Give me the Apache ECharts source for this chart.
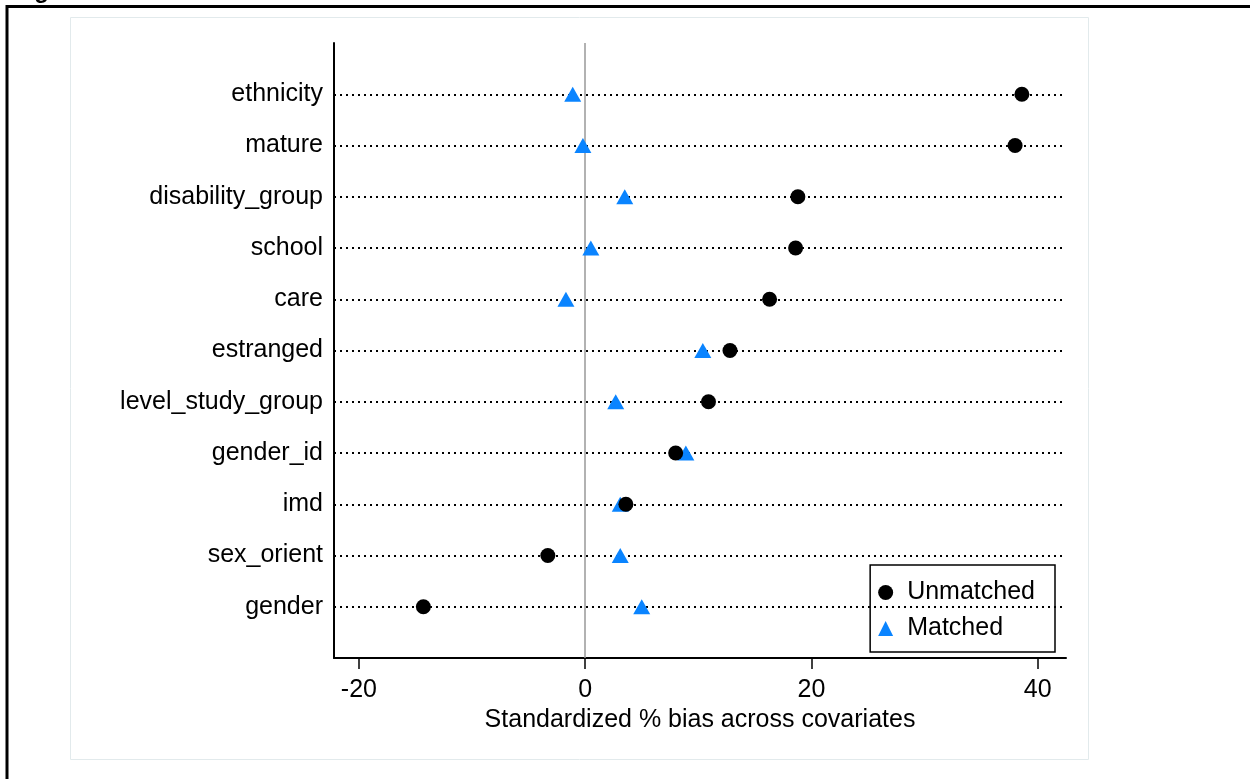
<!DOCTYPE html>
<html>
<head>
<meta charset="utf-8">
<script src="https://cdn.jsdelivr.net/npm/echarts@6/dist/echarts.min.js"></script>
<style>
html,body{margin:0;padding:0;background:#fff;}
#chart{width:1250px;height:779px;}
</style>
</head>
<body>
<div id="chart"></div>
<script>
// Covariates, top to bottom
var categories = ['ethnicity','mature','disability_group','school','care','estranged','level_study_group','gender_id','imd','sex_orient','gender'];
var unmatched = [38.6, 38.0, 18.8, 18.6, 16.3, 12.8, 10.9, 8.0, 3.6, -3.3, -14.3];
var matched   = [-1.1, -0.2, 3.5, 0.5, -1.7, 10.4, 2.7, 8.9, 3.1, 3.1, 5.0];
var xTicks = [-20, 0, 20, 40];
var xTitle = 'Standardized % bias across covariates';
var seriesNames = ['Unmatched', 'Matched'];
var headingText = 'Figure';

var n = categories.length;
function pos(i){ return n - i; }
function pts(arr){ return arr.map(function(v,i){ return [v, pos(i)]; }); }

var font = 'Liberation Sans, Arial, sans-serif';
var chart = echarts.init(document.getElementById('chart'));
chart.setOption({
  backgroundColor: '#fff',
  animation: false,
  graphic: [
    {type:'rect', shape:{x:70.5,y:17.5,width:1018,height:742}, style:{fill:'none', stroke:'#e2eaec', lineWidth:1}, z:-1},
    {type:'line', shape:{x1:6,y1:6.5,x2:1250,y2:6.5}, style:{stroke:'#000', lineWidth:3}},
    {type:'line', shape:{x1:7,y1:5,x2:7,y2:779}, style:{stroke:'#000', lineWidth:3}},
    {type:'text', left:13, top:-21, style:{text:headingText, font:'bold 24px Liberation Sans, Arial, sans-serif', fill:'#000'}}
  ],
  grid: {left:334, right:184, top:43, bottom:121, containLabel:false},
  legend: {
    data: seriesNames,
    orient: 'vertical',
    right: 195, bottom: 127,
    borderColor: '#000', borderWidth: 1.5, borderRadius: 0,
    padding: [15, 20, 11, 8],
    itemGap: 11, itemWidth: 15, itemHeight: 15,
    textStyle: {fontSize: 25, color:'#000', fontFamily: font, padding:[0,0,0,9]}
  },
  xAxis: {
    type: 'value', min: -22.2, max: 42.5,
    name: xTitle, nameLocation: 'middle', nameGap: 50,
    nameTextStyle: {fontSize: 25, color:'#000', fontFamily: font},
    axisLine: {show:true, onZero:false, lineStyle:{color:'#000', width:2}},
    axisTick: {show:true, length:11, customValues: xTicks, lineStyle:{color:'#000', width:1.5}},
    axisLabel: {customValues: xTicks, fontSize: 25, color:'#000', fontFamily: font, margin: 20},
    splitLine: {show:false}
  },
  yAxis: {
    type: 'value', min: 0, max: n + 1, interval: 1,
    axisLine: {show:true, onZero:false, lineStyle:{color:'#000', width:2}},
    axisTick: {show:false},
    axisLabel: {
      fontSize: 25, color:'#000', fontFamily: font, margin: 11, padding: [9,0,0,0],
      formatter: function(v){ return (v >= 1 && v <= n) ? categories[n - v] : ''; }
    },
    splitLine: {show:false}
  },
  series: [
    {
      name: 'Matched', type: 'scatter', symbol: 'triangle', symbolSize: [17, 15],
      itemStyle: {color: '#0a84ff', opacity: 1},
      data: pts(matched), z: 3
    },
    {
      name: 'Unmatched', type: 'scatter', symbol: 'circle', symbolSize: 15,
      itemStyle: {color: '#000', opacity: 1},
      data: pts(unmatched), z: 4,
      markLine: {
        silent: true, symbol: 'none', label: {show:false}, z: 1,
        data: categories.map(function(c,i){
          return {yAxis: pos(i), lineStyle: {color:'#000', width:2.2, type:[2,4]}};
        }).concat([{xAxis: 0, lineStyle:{color:'#999', width:1.5, type:'solid'}}])
      }
    }
  ]
});
</script>
</body>
</html>
